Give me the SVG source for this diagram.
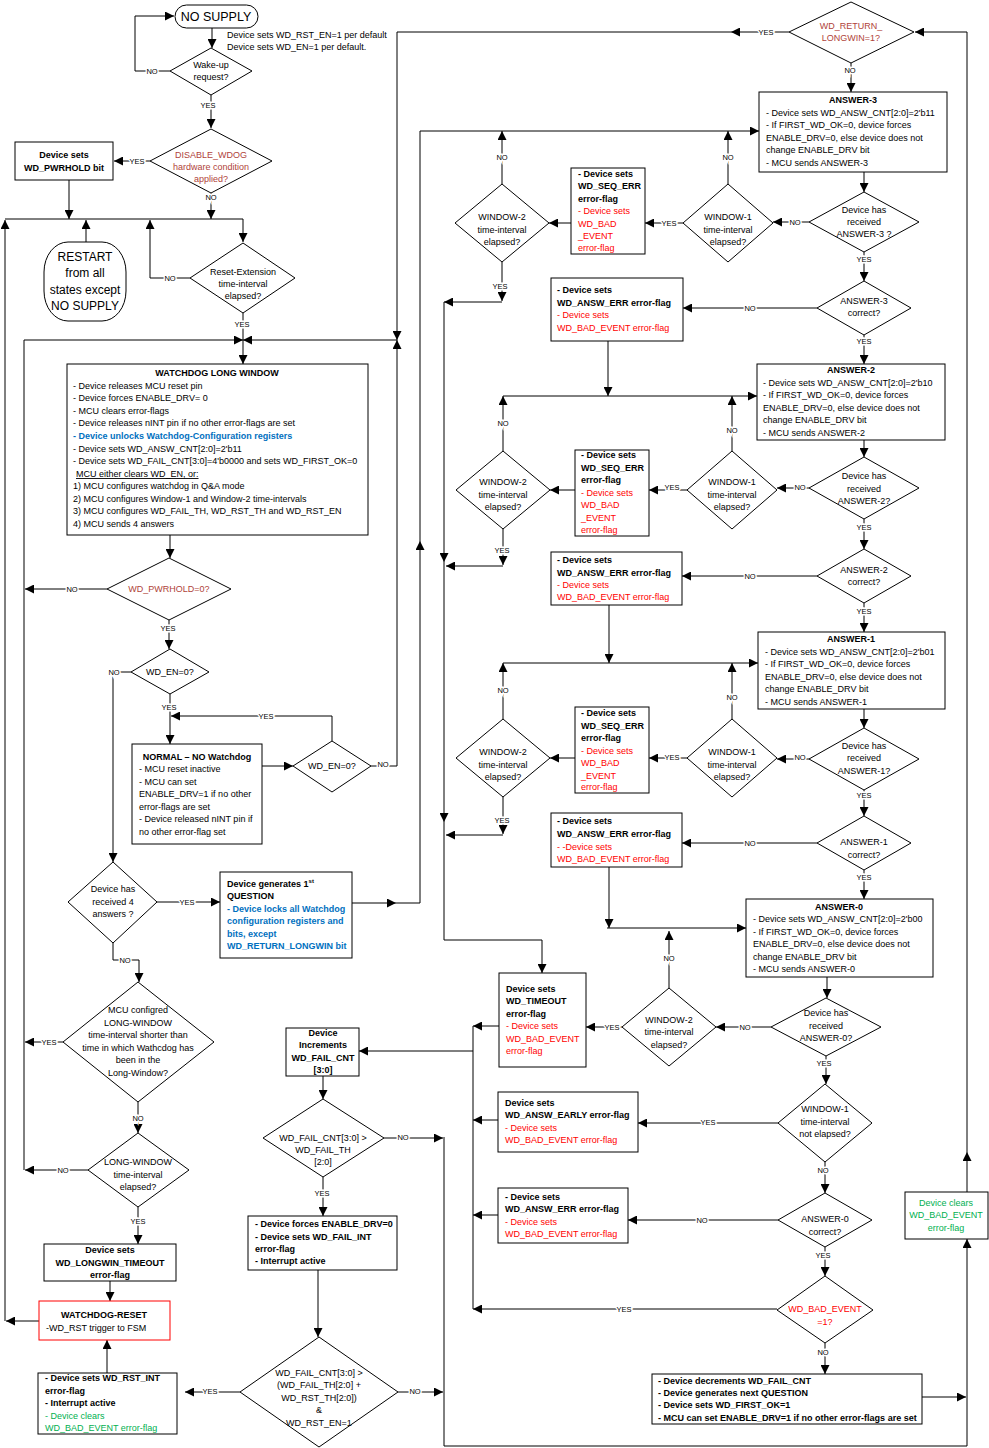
<svg xmlns="http://www.w3.org/2000/svg" width="989" height="1448" viewBox="0 0 989 1448">
<defs>
<marker id="ah" viewBox="0 0 10 10" refX="10" refY="5" markerWidth="10" markerHeight="9" markerUnits="userSpaceOnUse" orient="auto"><path d="M0,0 L10,5 L0,10 z" fill="#000"/></marker>
<style>
text{font-family:"Liberation Sans",Arial,sans-serif;font-size:9px;fill:#000}
.n{fill:#fff;stroke:#000;stroke-width:1}
.rb{fill:#fff;stroke:#ff0000;stroke-width:1}
.ln{fill:none;stroke:#000;stroke-width:1;marker-end:url(#ah)}
.pl{fill:none;stroke:#000;stroke-width:1}
.c{text-anchor:middle}
.b{font-weight:bold}
.red{fill:#ff0000}
.grn{fill:#00b050}
.blu{fill:#0070c0}
.brn{fill:#b0433a}
.big{font-size:12.5px}
.rs{font-size:12px}
.lb{font-size:7.5px;text-anchor:middle;stroke:#fff;stroke-width:3px;paint-order:stroke}
</style>
</defs>
<rect width="989" height="1448" fill="#fff"/>

<g id="connectors">
<path class="ln" d="M212,28 V48"/>
<path class="ln" d="M170,71 H135 V16 H174"/>
<path class="ln" d="M211,95 V128"/>
<path class="ln" d="M150,161 H114"/>
<path class="ln" d="M211,193 V219"/>
<path class="ln" d="M69,180 V219"/>
<path class="pl" d="M5,219 H243"/>
<path class="ln" d="M243,219 V242"/>
<path class="ln" d="M86,242 V220"/>
<path class="ln" d="M190,278 H150 V220"/>
<path class="ln" d="M39,1321 H6"/>
<path class="ln" d="M5,1321 V220"/>
<path class="ln" d="M243,313 V364"/>
<path class="ln" d="M24,1170 V340 H243"/>
<path class="ln" d="M789,32 H731"/>
<path class="ln" d="M731,32 H397 V340"/>
<path class="ln" d="M371,766 H397 V340"/>
<path class="ln" d="M397,340 H243"/>
<path class="ln" d="M107,589 H25"/>
<path class="ln" d="M63,1042 H25"/>
<path class="ln" d="M88,1170 H25"/>
<path class="ln" d="M332,741 V716 H171"/>
<path class="ln" d="M170,694 V744"/>
<path class="ln" d="M262,766 H293"/>
<path class="ln" d="M131,672 H113 V862"/>
<path class="ln" d="M170,535 V558"/>
<path class="ln" d="M169,620 V649"/>
<path class="ln" d="M157,902 H220"/>
<path class="ln" d="M113,943 V960 H139 V982"/>
<path class="ln" d="M138,1102 V1133"/>
<path class="ln" d="M138,1207 V1244"/>
<path class="ln" d="M110,1281 V1301"/>
<path class="ln" d="M107,1373 V1340"/>
<path class="ln" d="M352,903 H396"/>
<path class="ln" d="M396,903 H420 V541"/>
<path class="ln" d="M420,541 V131 H759"/>
<path class="ln" d="M851,63 V92"/>
<path class="ln" d="M864,172 V192"/>
<path class="ln" d="M809,222 H773"/>
<path class="ln" d="M683,223 H645"/>
<path class="ln" d="M571,223 H549"/>
<path class="ln" d="M728,184 V131"/>
<path class="ln" d="M502,184 V131"/>
<path class="ln" d="M502,262 V301"/>
<path class="ln" d="M502,302 H444"/>
<path class="ln" d="M444,302 V562"/>
<path class="ln" d="M444,562 V822"/>
<path class="ln" d="M444,822 V940 H542 V973"/>
<path class="ln" d="M864,252 V281"/>
<path class="ln" d="M817,308 H683"/>
<path class="ln" d="M608,341 V396"/>
<path class="ln" d="M503,396 H757"/>
<path class="ln" d="M864,335 V364"/>
<path class="ln" d="M864,440 V457"/>
<path class="ln" d="M809,488 H777"/>
<path class="ln" d="M687,490 H649"/>
<path class="ln" d="M575,490 H550"/>
<path class="ln" d="M732,451 V396"/>
<path class="ln" d="M503,451 V396"/>
<path class="ln" d="M503,529 V565"/>
<path class="ln" d="M503,566 H446"/>
<path class="ln" d="M864,519 V549"/>
<path class="ln" d="M817,576 H682"/>
<path class="ln" d="M609,605 V663"/>
<path class="ln" d="M503,663 H758"/>
<path class="ln" d="M864,603 V632"/>
<path class="ln" d="M864,709 V728"/>
<path class="ln" d="M809,759 H777"/>
<path class="ln" d="M687,758 H649"/>
<path class="ln" d="M575,758 H550"/>
<path class="ln" d="M732,719 V663"/>
<path class="ln" d="M503,719 V663"/>
<path class="ln" d="M503,797 V834"/>
<path class="ln" d="M503,835 H446"/>
<path class="ln" d="M864,790 V816"/>
<path class="ln" d="M817,843 H682"/>
<path class="ln" d="M609,867 V928"/>
<path class="ln" d="M607,928 H746"/>
<path class="ln" d="M864,870 V899"/>
<path class="ln" d="M827,977 V998"/>
<path class="ln" d="M771,1027 H716"/>
<path class="ln" d="M669,988 V931"/>
<path class="ln" d="M622,1027 H586"/>
<path class="ln" d="M499,1026 H473"/>
<path class="ln" d="M826,1056 V1084"/>
<path class="ln" d="M778,1123 H638"/>
<path class="ln" d="M498,1120 H473"/>
<path class="ln" d="M825,1162 V1193"/>
<path class="ln" d="M778,1220 H628"/>
<path class="ln" d="M498,1215 H473"/>
<path class="ln" d="M825,1247 V1276"/>
<path class="ln" d="M777,1309 H473"/>
<path class="ln" d="M825,1343 V1374"/>
<path class="ln" d="M922,1397 H966"/>
<path class="pl" d="M473,1026 V1309"/>
<path class="ln" d="M473,1051 H359"/>
<path class="ln" d="M323,1076 V1099"/>
<path class="ln" d="M384,1138 H443"/>
<path class="ln" d="M323,1177 V1216"/>
<path class="ln" d="M318,1270 V1337"/>
<path class="ln" d="M240,1392 H185"/>
<path class="ln" d="M398,1392 H443"/>
<path class="ln" d="M444,1137 V1446 H967 V1239"/>
<path class="ln" d="M967,1192 V1152"/>
<path class="ln" d="M967,1152 V32 H915"/>

<text class="lb" x="152" y="74">NO</text>
<text class="lb" x="208" y="108">YES</text>
<text class="lb" x="137" y="164">YES</text>
<text class="lb" x="211" y="200">NO</text>
<text class="lb" x="170" y="281">NO</text>
<text class="lb" x="242" y="327">YES</text>
<text class="lb" x="766" y="35">YES</text>
<text class="lb" x="383" y="767">NO</text>
<text class="lb" x="72" y="592">NO</text>
<text class="lb" x="168" y="631">YES</text>
<text class="lb" x="114" y="675">NO</text>
<text class="lb" x="169" y="710">YES</text>
<text class="lb" x="266" y="719">YES</text>
<text class="lb" x="187" y="905">YES</text>
<text class="lb" x="125" y="963">NO</text>
<text class="lb" x="49" y="1045">YES</text>
<text class="lb" x="138" y="1121">NO</text>
<text class="lb" x="63" y="1173">NO</text>
<text class="lb" x="138" y="1224">YES</text>
<text class="lb" x="850" y="73">NO</text>
<text class="lb" x="795" y="225">NO</text>
<text class="lb" x="669" y="226">YES</text>
<text class="lb" x="728" y="160">NO</text>
<text class="lb" x="502" y="160">NO</text>
<text class="lb" x="500" y="289">YES</text>
<text class="lb" x="864" y="262">YES</text>
<text class="lb" x="750" y="311">NO</text>
<text class="lb" x="864" y="344">YES</text>
<text class="lb" x="800" y="490">NO</text>
<text class="lb" x="672" y="490">YES</text>
<text class="lb" x="732" y="433">NO</text>
<text class="lb" x="503" y="426">NO</text>
<text class="lb" x="502" y="553">YES</text>
<text class="lb" x="864" y="530">YES</text>
<text class="lb" x="750" y="579">NO</text>
<text class="lb" x="864" y="614">YES</text>
<text class="lb" x="800" y="760">NO</text>
<text class="lb" x="672" y="760">YES</text>
<text class="lb" x="732" y="700">NO</text>
<text class="lb" x="503" y="693">NO</text>
<text class="lb" x="502" y="823">YES</text>
<text class="lb" x="864" y="798">YES</text>
<text class="lb" x="750" y="846">NO</text>
<text class="lb" x="864" y="880">YES</text>
<text class="lb" x="745" y="1030">NO</text>
<text class="lb" x="669" y="961">NO</text>
<text class="lb" x="612" y="1030">YES</text>
<text class="lb" x="824" y="1066">YES</text>
<text class="lb" x="708" y="1125">YES</text>
<text class="lb" x="823" y="1173">NO</text>
<text class="lb" x="702" y="1223">NO</text>
<text class="lb" x="823" y="1258">YES</text>
<text class="lb" x="624" y="1312">YES</text>
<text class="lb" x="823" y="1355">NO</text>
<text class="lb" x="403" y="1140">NO</text>
<text class="lb" x="322" y="1196">YES</text>
<text class="lb" x="210" y="1394">YES</text>
<text class="lb" x="415" y="1394">NO</text>
</g>

<g id="no-supply">
<rect class="n" x="175" y="5" width="83" height="23" rx="11.5"/>
<text class="c big" x="216" y="21">NO SUPPLY</text>
<text x="227" y="38">Device sets WD_RST_EN=1 per default</text>
<text x="227" y="50">Device sets WD_EN=1 per default.</text>
</g>

<g id="wakeup">
<polygon class="n" points="211,48 252,71 211,95 170,71"/>
<text class="c" x="211" y="68">Wake-up</text>
<text class="c" x="211" y="80">request?</text>
</g>

<g id="disable-wdog">
<polygon class="n" points="211,129 272,161 211,193 150,161"/>
<text class="c brn" x="211" y="158">DISABLE_WDOG</text>
<text class="c brn" x="211" y="170">hardware condition</text>
<text class="c brn" x="211" y="182">applied?</text>
</g>

<g id="pwrhold-bit">
<rect class="n" x="15" y="142" width="98" height="38"/>
<text class="c b" x="64" y="158">Device sets</text>
<text class="c b" x="64" y="171">WD_PWRHOLD bit</text>
</g>

<g id="restart">
<rect class="n" x="44" y="242" width="82" height="79" rx="24" ry="30"/>
<text class="c rs" x="85" y="261">RESTART</text>
<text class="c rs" x="85" y="277">from all</text>
<text class="c rs" x="85" y="294">states except</text>
<text class="c rs" x="85" y="310">NO SUPPLY</text>
</g>

<g id="reset-extension">
<polygon class="n" points="243,243 295,278 243,313 190,278"/>
<text class="c" x="243" y="275">Reset-Extension</text>
<text class="c" x="243" y="287">time-interval</text>
<text class="c" x="243" y="299">elapsed?</text>
</g>

<g id="long-window">
<rect class="n" x="67" y="364" width="301" height="171"/>
<text class="c b" x="217" y="376">WATCHDOG LONG WINDOW</text>
<text x="73" y="389">- Device releases MCU reset pin</text>
<text x="73" y="401">- Device forces ENABLE_DRV= 0</text>
<text x="73" y="414">- MCU clears error-flags</text>
<text x="73" y="426">- Device releases nINT pin if no other error-flags are set</text>
<text class="b blu" x="73" y="439">- Device unlocks Watchdog-Configuration registers</text>
<text x="73" y="452">- Device sets WD_ANSW_CNT[2:0]=2'b11</text>
<text x="73" y="464">- Device sets WD_FAIL_CNT[3:0]=4'b0000 and sets WD_FIRST_OK=0</text>
<text x="76" y="477" text-decoration="underline">MCU either clears WD_EN, or:</text>
<text x="73" y="489">1) MCU configures watchdog in Q&amp;A mode</text>
<text x="73" y="502">2) MCU configures Window-1 and Window-2 time-intervals</text>
<text x="73" y="514">3) MCU configures WD_FAIL_TH, WD_RST_TH and WD_RST_EN</text>
<text x="73" y="527">4) MCU sends 4 answers</text>
</g>

<g id="pwrhold-check">
<polygon class="n" points="169,558 231,589 169,620 107,589"/>
<text class="c brn" x="169" y="592">WD_PWRHOLD=0?</text>
</g>

<g id="wd-en-check-1">
<polygon class="n" points="170,649 209,672 170,694 131,672"/>
<text class="c" x="170" y="675">WD_EN=0?</text>
</g>

<g id="normal">
<rect class="n" x="132" y="744" width="130" height="100"/>
<text class="c b" x="197" y="760">NORMAL – NO Watchdog</text>
<text x="139" y="772">- MCU reset inactive</text>
<text x="139" y="785">- MCU can set</text>
<text x="139" y="797">ENABLE_DRV=1 if no other</text>
<text x="139" y="810">error-flags are set</text>
<text x="139" y="822">- Device released nINT pin if</text>
<text x="139" y="835">no other error-flag set</text>
</g>

<g id="wd-en-check-2">
<polygon class="n" points="332,741 371,766 332,792 293,766"/>
<text class="c" x="332" y="769">WD_EN=0?</text>
</g>

<g id="received-4">
<polygon class="n" points="113,862 157,902 113,943 68,902"/>
<text class="c" x="113" y="892">Device has</text>
<text class="c" x="113" y="905">received 4</text>
<text class="c" x="113" y="917">answers ?</text>
</g>

<g id="first-question">
<rect class="n" x="220" y="872" width="132" height="86"/>
<text class="b" x="227" y="887">Device generates 1<tspan font-size="6" dy="-4">st</tspan></text>
<text class="b" x="227" y="899">QUESTION</text>
<text class="b blu" x="227" y="912">- Device locks all Watchdog</text>
<text class="b blu" x="227" y="924">configuration registers and</text>
<text class="b blu" x="227" y="937">bits, except</text>
<text class="b blu" x="227" y="949">WD_RETURN_LONGWIN bit</text>
</g>

<g id="mcu-configured">
<polygon class="n" points="138,982 214,1042 138,1102 63,1042"/>
<text class="c" x="138" y="1013">MCU configred</text>
<text class="c" x="138" y="1026">LONG-WINDOW</text>
<text class="c" x="138" y="1038">time-interval shorter than</text>
<text class="c" x="138" y="1051">time in which Wathcdog has</text>
<text class="c" x="138" y="1063">been in the</text>
<text class="c" x="138" y="1076">Long-Window?</text>
</g>

<g id="long-window-elapsed">
<polygon class="n" points="138,1133 189,1170 138,1207 88,1170"/>
<text class="c" x="138" y="1165">LONG-WINDOW</text>
<text class="c" x="138" y="1178">time-interval</text>
<text class="c" x="138" y="1190">elapsed?</text>
</g>

<g id="longwin-timeout">
<rect class="n" x="44" y="1244" width="132" height="37"/>
<text class="c b" x="110" y="1253">Device sets</text>
<text class="c b" x="110" y="1266">WD_LONGWIN_TIMEOUT</text>
<text class="c b" x="110" y="1278">error-flag</text>
</g>

<g id="watchdog-reset">
<rect class="rb" x="39" y="1301" width="131" height="39"/>
<text class="c b" x="104" y="1318">WATCHDOG-RESET</text>
<text x="46" y="1331">-WD_RST trigger to FSM</text>
</g>

<g id="rst-int">
<rect class="n" x="38" y="1373" width="139" height="61"/>
<text class="b" x="45" y="1381">- Device sets WD_RST_INT</text>
<text class="b" x="45" y="1394">error-flag</text>
<text class="b" x="45" y="1406">- Interrupt active</text>
<text class="grn" x="45" y="1419">- Device clears</text>
<text class="grn" x="45" y="1431">WD_BAD_EVENT error-flag</text>
</g>

<g id="fail-increment">
<rect class="n" x="286" y="1028" width="73" height="48"/>
<text class="c b" x="323" y="1036">Device</text>
<text class="c b" x="323" y="1048">Increments</text>
<text class="c b" x="323" y="1061">WD_FAIL_CNT</text>
<text class="c b" x="323" y="1073">[3:0]</text>
</g>

<g id="fail-check-1">
<polygon class="n" points="323,1099 384,1138 323,1177 263,1138"/>
<text class="c" x="323" y="1141">WD_FAIL_CNT[3:0] &gt;</text>
<text class="c" x="323" y="1153">WD_FAIL_TH</text>
<text class="c" x="323" y="1165">[2:0]</text>
</g>

<g id="fail-int">
<rect class="n" x="248" y="1216" width="149" height="54"/>
<text class="b" x="255" y="1227">- Device forces ENABLE_DRV=0</text>
<text class="b" x="255" y="1240">- Device sets WD_FAIL_INT</text>
<text class="b" x="255" y="1252">error-flag</text>
<text class="b" x="255" y="1264">- Interrupt active</text>
</g>

<g id="fail-check-2">
<polygon class="n" points="319,1337 398,1392 319,1447 240,1392"/>
<text class="c" x="319" y="1376">WD_FAIL_CNT[3:0] &gt;</text>
<text class="c" x="319" y="1388">(WD_FAIL_TH[2:0] +</text>
<text class="c" x="319" y="1401">WD_RST_TH[2:0])</text>
<text class="c" x="319" y="1413">&amp;</text>
<text class="c" x="319" y="1426">WD_RST_EN=1</text>
</g>

<g id="return-longwin">
<polygon class="n" points="851,2 914,32 851,63 789,32"/>
<text class="c brn" x="851" y="29">WD_RETURN_</text>
<text class="c brn" x="851" y="41">LONGWIN=1?</text>
</g>

<g id="answer-3">
<rect class="n" x="759" y="92" width="188" height="80"/>
<text class="c b" x="853" y="103">ANSWER-3</text>
<text x="766" y="116">- Device sets WD_ANSW_CNT[2:0]=2'b11</text>
<text x="766" y="128">- If FIRST_WD_OK=0, device forces</text>
<text x="766" y="141">ENABLE_DRV=0, else device does not</text>
<text x="766" y="153">change ENABLE_DRV bit</text>
<text x="766" y="166">- MCU sends ANSWER-3</text>
</g>
<g id="received-3">
<polygon class="n" points="864,192 919,222 864,252 809,222"/>
<text class="c" x="864" y="213">Device has</text>
<text class="c" x="864" y="225">received</text>
<text class="c" x="864" y="237">ANSWER-3 ?</text>
</g>
<g id="window1-3">
<polygon class="n" points="728,184 773,223 728,262 683,223"/>
<text class="c" x="728" y="220">WINDOW-1</text>
<text class="c" x="728" y="233">time-interval</text>
<text class="c" x="728" y="245">elapsed?</text>
</g>
<g id="seq-err-3">
<rect class="n" x="571" y="168" width="74" height="86"/>
<text class="b" x="578" y="177">- Device sets</text>
<text class="b" x="578" y="189">WD_SEQ_ERR</text>
<text class="b" x="578" y="202">error-flag</text>
<text class="red" x="578" y="214">- Device sets</text>
<text class="red" x="578" y="227">WD_BAD</text>
<text class="red" x="578" y="239">_EVENT</text>
<text class="red" x="578" y="251">error-flag</text>
</g>
<g id="window2-3">
<polygon class="n" points="502,184 549,223 502,262 455,223"/>
<text class="c" x="502" y="220">WINDOW-2</text>
<text class="c" x="502" y="233">time-interval</text>
<text class="c" x="502" y="245">elapsed?</text>
</g>
<g id="correct-3">
<polygon class="n" points="864,281 911,308 864,335 817,308"/>
<text class="c" x="864" y="304">ANSWER-3</text>
<text class="c" x="864" y="316">correct?</text>
</g>
<g id="answ-err-3">
<rect class="n" x="551" y="278" width="132" height="63"/>
<text class="b" x="557" y="293">- Device sets</text>
<text class="b" x="557" y="306">WD_ANSW_ERR error-flag</text>
<text class="red" x="557" y="318">- Device sets</text>
<text class="red" x="557" y="331">WD_BAD_EVENT error-flag</text>
</g>

<g id="answer-2">
<rect class="n" x="757" y="364" width="188" height="76"/>
<text class="c b" x="851" y="373">ANSWER-2</text>
<text x="763" y="386">- Device sets WD_ANSW_CNT[2:0]=2'b10</text>
<text x="763" y="398">- If FIRST_WD_OK=0, device forces</text>
<text x="763" y="411">ENABLE_DRV=0, else device does not</text>
<text x="763" y="423">change ENABLE_DRV bit</text>
<text x="763" y="436">- MCU sends ANSWER-2</text>
</g>
<g id="received-2">
<polygon class="n" points="864,457 919,488 864,519 809,488"/>
<text class="c" x="864" y="479">Device has</text>
<text class="c" x="864" y="492">received</text>
<text class="c" x="864" y="504">ANSWER-2?</text>
</g>
<g id="window1-2">
<polygon class="n" points="732,451 777,490 732,529 687,490"/>
<text class="c" x="732" y="485">WINDOW-1</text>
<text class="c" x="732" y="498">time-interval</text>
<text class="c" x="732" y="510">elapsed?</text>
</g>
<g id="seq-err-2">
<rect class="n" x="575" y="450" width="74" height="86"/>
<text class="b" x="581" y="458">- Device sets</text>
<text class="b" x="581" y="471">WD_SEQ_ERR</text>
<text class="b" x="581" y="483">error-flag</text>
<text class="red" x="581" y="496">- Device sets</text>
<text class="red" x="581" y="508">WD_BAD</text>
<text class="red" x="581" y="521">_EVENT</text>
<text class="red" x="581" y="533">error-flag</text>
</g>
<g id="window2-2">
<polygon class="n" points="503,451 550,490 503,529 456,490"/>
<text class="c" x="503" y="485">WINDOW-2</text>
<text class="c" x="503" y="498">time-interval</text>
<text class="c" x="503" y="510">elapsed?</text>
</g>
<g id="correct-2">
<polygon class="n" points="864,549 911,576 864,603 817,576"/>
<text class="c" x="864" y="573">ANSWER-2</text>
<text class="c" x="864" y="585">correct?</text>
</g>
<g id="answ-err-2">
<rect class="n" x="551" y="552" width="131" height="53"/>
<text class="b" x="557" y="563">- Device sets</text>
<text class="b" x="557" y="576">WD_ANSW_ERR error-flag</text>
<text class="red" x="557" y="588">- Device sets</text>
<text class="red" x="557" y="600">WD_BAD_EVENT error-flag</text>
</g>

<g id="answer-1">
<rect class="n" x="758" y="632" width="187" height="77"/>
<text class="c b" x="851" y="642">ANSWER-1</text>
<text x="765" y="655">- Device sets WD_ANSW_CNT[2:0]=2'b01</text>
<text x="765" y="667">- If FIRST_WD_OK=0, device forces</text>
<text x="765" y="680">ENABLE_DRV=0, else device does not</text>
<text x="765" y="692">change ENABLE_DRV bit</text>
<text x="765" y="705">- MCU sends ANSWER-1</text>
</g>
<g id="received-1">
<polygon class="n" points="864,728 919,759 864,790 809,759"/>
<text class="c" x="864" y="749">Device has</text>
<text class="c" x="864" y="761">received</text>
<text class="c" x="864" y="774">ANSWER-1?</text>
</g>
<g id="window1-1">
<polygon class="n" points="732,719 777,758 732,797 687,758"/>
<text class="c" x="732" y="755">WINDOW-1</text>
<text class="c" x="732" y="768">time-interval</text>
<text class="c" x="732" y="780">elapsed?</text>
</g>
<g id="seq-err-1">
<rect class="n" x="575" y="707" width="74" height="86"/>
<text class="b" x="581" y="716">- Device sets</text>
<text class="b" x="581" y="729">WD_SEQ_ERR</text>
<text class="b" x="581" y="741">error-flag</text>
<text class="red" x="581" y="754">- Device sets</text>
<text class="red" x="581" y="766">WD_BAD</text>
<text class="red" x="581" y="779">_EVENT</text>
<text class="red" x="581" y="790">error-flag</text>
</g>
<g id="window2-1">
<polygon class="n" points="503,719 550,758 503,797 456,758"/>
<text class="c" x="503" y="755">WINDOW-2</text>
<text class="c" x="503" y="768">time-interval</text>
<text class="c" x="503" y="780">elapsed?</text>
</g>
<g id="correct-1">
<polygon class="n" points="864,816 911,843 864,870 817,843"/>
<text class="c" x="864" y="845">ANSWER-1</text>
<text class="c" x="864" y="858">correct?</text>
</g>
<g id="answ-err-1">
<rect class="n" x="551" y="813" width="131" height="54"/>
<text class="b" x="557" y="824">- Device sets</text>
<text class="b" x="557" y="837">WD_ANSW_ERR error-flag</text>
<text class="red" x="557" y="850">- -Device sets</text>
<text class="red" x="557" y="862">WD_BAD_EVENT error-flag</text>
</g>

<g id="answer-0">
<rect class="n" x="746" y="899" width="187" height="78"/>
<text class="c b" x="839" y="910">ANSWER-0</text>
<text x="753" y="922">- Device sets WD_ANSW_CNT[2:0]=2'b00</text>
<text x="753" y="935">- If FIRST_WD_OK=0, device forces</text>
<text x="753" y="947">ENABLE_DRV=0, else device does not</text>
<text x="753" y="960">change ENABLE_DRV bit</text>
<text x="753" y="972">- MCU sends ANSWER-0</text>
</g>
<g id="received-0">
<polygon class="n" points="826,998 881,1027 826,1056 771,1027"/>
<text class="c" x="826" y="1016">Device has</text>
<text class="c" x="826" y="1029">received</text>
<text class="c" x="826" y="1041">ANSWER-0?</text>
</g>
<g id="window2-0">
<polygon class="n" points="669,988 716,1027 669,1066 622,1027"/>
<text class="c" x="669" y="1023">WINDOW-2</text>
<text class="c" x="669" y="1035">time-interval</text>
<text class="c" x="669" y="1048">elapsed?</text>
</g>
<g id="timeout">
<rect class="n" x="499" y="973" width="87" height="94"/>
<text class="b" x="506" y="992">Device sets</text>
<text class="b" x="506" y="1004">WD_TIMEOUT</text>
<text class="b" x="506" y="1017">error-flag</text>
<text class="red" x="506" y="1029">- Device sets</text>
<text class="red" x="506" y="1042">WD_BAD_EVENT</text>
<text class="red" x="506" y="1054">error-flag</text>
</g>
<g id="window1-0">
<polygon class="n" points="825,1084 872,1123 825,1162 778,1123"/>
<text class="c" x="825" y="1112">WINDOW-1</text>
<text class="c" x="825" y="1125">time-interval</text>
<text class="c" x="825" y="1137">not elapsed?</text>
</g>
<g id="answ-early">
<rect class="n" x="498" y="1092" width="140" height="60"/>
<text class="b" x="505" y="1106">Device sets</text>
<text class="b" x="505" y="1118">WD_ANSW_EARLY error-flag</text>
<text class="red" x="505" y="1131">- Device sets</text>
<text class="red" x="505" y="1143">WD_BAD_EVENT error-flag</text>
</g>
<g id="correct-0">
<polygon class="n" points="825,1193 872,1220 825,1247 778,1220"/>
<text class="c" x="825" y="1222">ANSWER-0</text>
<text class="c" x="825" y="1235">correct?</text>
</g>
<g id="answ-err-0">
<rect class="n" x="498" y="1188" width="130" height="55"/>
<text class="b" x="505" y="1200">- Device sets</text>
<text class="b" x="505" y="1212">WD_ANSW_ERR error-flag</text>
<text class="red" x="505" y="1225">- Device sets</text>
<text class="red" x="505" y="1237">WD_BAD_EVENT error-flag</text>
</g>
<g id="bad-event">
<polygon class="n" points="825,1276 873,1310 825,1343 777,1310"/>
<text class="c red" x="825" y="1312">WD_BAD_EVENT</text>
<text class="c red" x="825" y="1325">=1?</text>
</g>
<g id="decrement">
<rect class="n" x="652" y="1374" width="270" height="50"/>
<text class="b" x="658" y="1384">- Device decrements WD_FAIL_CNT</text>
<text class="b" x="658" y="1396">- Device generates next QUESTION</text>
<text class="b" x="658" y="1408">- Device sets WD_FIRST_OK=1</text>
<text class="b" x="658" y="1421">- MCU can set ENABLE_DRV=1 if no other error-flags are set</text>
</g>
<g id="clear-bad-event">
<rect class="n" x="905" y="1192" width="83" height="47"/>
<text class="c grn" x="946" y="1206">Device clears</text>
<text class="c grn" x="946" y="1218">WD_BAD_EVENT</text>
<text class="c grn" x="946" y="1231">error-flag</text>
</g>
</svg>
